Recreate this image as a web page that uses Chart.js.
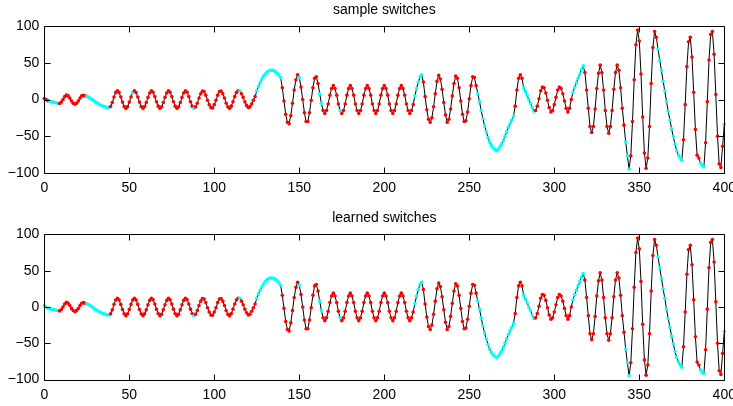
<!DOCTYPE html>
<html lang="en">
  <head>
    <meta charset="UTF-8" />
    <title>sample / learned switches</title>
    <style>
      * {
        margin: 0;
        padding: 0;
        box-sizing: border-box;
      }

      body {
        width: 733px;
        height: 406px;
        overflow: hidden;
        background: #fff;
        position: relative;
      }

      canvas {
        position: absolute;
        left: 0;
      }

      #chartTop {
        top: 0;
      }

      #chartBottom {
        top: 203px;
      }
    </style>
  </head>
  <body>
    <canvas id="chartTop" width="745" height="203"></canvas>
    <canvas id="chartBottom" width="745" height="203"></canvas>

    <script src="https://cdn.jsdelivr.net/npm/chart.js"></script>
    <script>
      // signal value at t = 0..400
      const signal = [
        1.5, 0, -1.5, -2.3, -3, -3.5, -4, -4.5, -5, -5.5,
        -3.5, 0, 4, 6.3, 5, 2, -2, -5, -6.4, -5,
        -2, 2, 5, 5.9, 5, 4.3, 3.3, 1.8, 0.2, -1.5,
        -3.2, -4.8, -6.2, -7.5, -8.6, -9.5, -10.2, -10.7, -11, -9.5,
        -4, 3.5, 9.5, 12, 9.5, 3.5, -3.5, -9.5, -12, -9.5,
        -3.5, 3.5, 9.5, 12, 9.5, 3.5, -3.5, -9.5, -12, -9.5,
        -4, 3, 9, 12, 10, 4, -3, -9, -12, -10,
        -4, 3, 9, 12, 10, 4, -3, -9, -12, -10,
        -4, 3, 9, 12, 10, 4, -3, -9, -12, -10,
        -5, 2, 8, 11.5, 11, 6, -1, -7, -11, -11.5,
        -7, -1, 6, 11, 11.5, 8, 2, -5, -10, -12,
        -9, -3, 4, 9.5, 12, 12, 8, 3, -3, -8,
        -11, -10, -6, -1, 4, 12, 18, 23, 28, 32,
        35, 37.5, 39, 40, 40, 39.5, 38, 36, 33.5, 30,
        16, -2, -20, -31, -33, -22, -5, 13, 27, 34,
        30, 17, 0, -18, -30, -30, -18, -1, 16, 29,
        31, 22, 8, -5, -15, -19, -15, -6, 6, 15,
        19, 15, 6, -6, -15, -19, -15, -6, 6, 15,
        19, 15, 6, -6, -15, -19, -15, -6, 6, 15,
        19, 15, 6, -6, -15, -19, -15, -6, 6, 15,
        19, 15, 6, -6, -15, -19, -15, -6, 6, 15,
        19, 15, 6, -6, -15, -19, -15, -7, 5, 15,
        24, 31, 34, 24, 4, -14, -27, -31, -25, -10,
        8, 25, 33, 28, 14, -4, -21, -31, -27, -13,
        5, 22, 32, 29, 16, -2, -20, -30, -29, -17,
        1, 19, 31, 30, 19, 8, -3, -15, -26, -36,
        -44, -52, -58, -63, -66, -68, -70, -68, -65, -61,
        -56, -50, -44, -38, -33, -28, -23, -9, 13, 29,
        34, 29, 16, 11, 6, 0, -5, -11, -16, -15,
        -9, 1, 12, 17, 16, 9, -1, -11, -17, -15,
        -7, 3, 13, 17, 15, 8, -2, -12, -17, -12,
        0, 10, 17, 23, 29, 35, 41, 46, 37, 13,
        -12, -37, -45, -37, -13, 15, 36, 47, 37, 13,
        -15, -37, -46, -37, -15, 14, 37, 47, 40, 16,
        -12, -35, -58, -77, -95, -77, -30, 27, 75, 95,
        80, 35, -24, -73, -94, -80, -37, 22, 71, 93,
        85, 69, 54, 40, 25, 12, -3, -16, -28, -40,
        -51, -61, -70, -76, -80, -83, -55, -7, 45, 79,
        85, 58, 10, -41, -76, -80, -87, -90, -92, -59,
        -3, 54, 89, 93, 62, 7, -50, -88, -93, -64,
        -34,
      ];

      // stretches of t drawn in cyan (the rest is red)
      const sampleCyan = [
        [3, 8], [25, 38], [52, 52], [88, 88], [115, 115], [125, 139],
        [150, 150], [162, 163], [174, 174], [218, 222], [255, 276],
        [282, 288], [311, 317], [342, 344], [361, 375], [386, 388], [400, 400],
      ];
      const learnedCyan = [
        [0, 8], [25, 38], [88, 88], [115, 115], [125, 139],
        [150, 150], [162, 163], [174, 174], [218, 222], [255, 276],
        [282, 288], [311, 317], [342, 344], [361, 375], [386, 388], [400, 400],
      ];

      const xTicks = [0, 50, 100, 150, 200, 250, 300, 350, 400];
      const yTicks = [-100, -50, 0, 50, 100];

      const fontFamily = "'Liberation Sans', Arial, Helvetica, sans-serif";

      function pointColors(cyanRanges) {
        return signal.map(function (v, i) {
          const isCyan = cyanRanges.some(function (r) {
            return i >= r[0] && i <= r[1];
          });
          return isCyan ? "#00ffff" : "#ff0000";
        });
      }

      // matlab style box with inward ticks
      const boxPlugin = {
        id: "box",
        afterDraw(chart) {
          const ctx = chart.ctx;
          const a = chart.chartArea;
          const x = chart.scales.x;
          const y = chart.scales.y;
          const L = Math.round(a.left) + 0.5;
          const R = Math.round(a.right) + 0.5;
          const T = Math.round(a.top) + 0.5;
          const B = Math.round(a.bottom) + 0.5;
          ctx.save();
          ctx.strokeStyle = "#000";
          ctx.lineWidth = 1;
          ctx.beginPath();
          ctx.rect(L, T, R - L, B - T);
          xTicks.forEach(function (v) {
            const p = Math.round(x.getPixelForValue(v)) + 0.5;
            ctx.moveTo(p, B);
            ctx.lineTo(p, B - 6);
            ctx.moveTo(p, T);
            ctx.lineTo(p, T + 6);
          });
          yTicks.forEach(function (v) {
            const p = Math.round(y.getPixelForValue(v)) + 0.5;
            ctx.moveTo(L, p);
            ctx.lineTo(L + 6, p);
            ctx.moveTo(R, p);
            ctx.lineTo(R - 6, p);
          });
          ctx.stroke();
          ctx.restore();
        },
      };

      function makeChart(id, title, cyanRanges, titlePad, xHeight) {
        const ctx = document.getElementById(id).getContext("2d");
        return new Chart(ctx, {
          type: "line",
          data: {
            datasets: [
              {
                data: signal.map(function (v, i) {
                  return { x: i, y: v };
                }),
                borderColor: "#000",
                borderWidth: 1,
                tension: 0,
                pointRadius: 1.8,
                pointHoverRadius: 1.8,
                pointBorderWidth: 0,
                pointBackgroundColor: pointColors(cyanRanges),
                pointBorderColor: pointColors(cyanRanges),
                clip: false,
              },
            ],
          },
          options: {
            responsive: false,
            animation: false,
            devicePixelRatio: 1,
            layout: {
              padding: { left: 0, right: 20.7, top: 0, bottom: 0 },
            },
            plugins: {
              legend: { display: false },
              tooltip: { enabled: false },
              title: {
                display: true,
                text: title,
                fullSize: false,
                color: "#000",
                font: { family: fontFamily, size: 14, weight: "normal" },
                padding: titlePad,
              },
            },
            scales: {
              x: {
                type: "linear",
                min: 0,
                max: 400,
                grid: { display: false, drawTicks: false },
                border: { display: false },
                ticks: {
                  stepSize: 50,
                  autoSkip: false,
                  maxRotation: 0,
                  padding: 7,
                  color: "#000",
                  font: { family: fontFamily, size: 14 },
                },
                afterFit(scale) {
                  scale.height = xHeight;
                },
              },
              y: {
                min: -100,
                max: 100,
                grid: { display: false, drawTicks: false },
                border: { display: false },
                ticks: {
                  stepSize: 50,
                  padding: 5,
                  color: "#000",
                  font: { family: fontFamily, size: 14 },
                  callback: function (v) {
                    return v < 0 ? "\u2212" + Math.abs(v) : String(v);
                  },
                },
                afterFit(scale) {
                  scale.width = 44.3;
                },
              },
            },
          },
          plugins: [boxPlugin],
        });
      }

      makeChart("chartTop", "sample switches", sampleCyan, { top: 2.2, bottom: 7.4 }, 30.3);
      makeChart("chartBottom", "learned switches", learnedCyan, { top: 7.0, bottom: 7.6 }, 26.5);
    </script>
  </body>
</html>
